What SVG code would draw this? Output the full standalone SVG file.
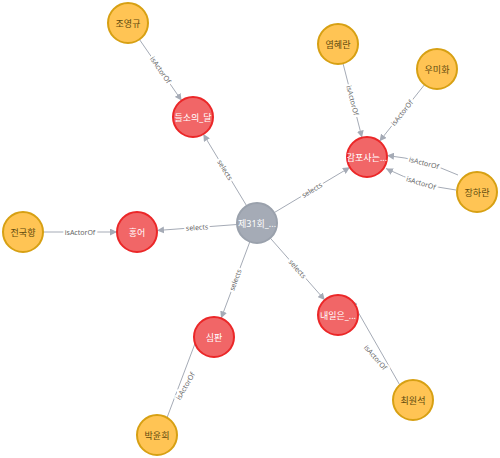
<svg xmlns="http://www.w3.org/2000/svg" width="500" height="458" viewBox="0 0 500 458">
<style>
.e{fill:none;stroke:#A5ABB6;stroke-width:1;marker-end:url(#ah)}
.el{font-family:"Noto Sans","Noto Sans CJK KR",sans-serif;font-size:7px;fill:#666;text-anchor:middle;dominant-baseline:central;stroke:#fff;stroke-width:4px;paint-order:stroke}
.act circle{fill:#FFC454;stroke:#D7A013;stroke-width:2}
.prg circle{fill:#F16667;stroke:#EB2728;stroke-width:2}
.ep circle{fill:#A5ABB6;stroke:#9AA1AC;stroke-width:2}
.nl{font-family:"Noto Sans","Noto Sans CJK KR",sans-serif;font-size:9px;text-anchor:middle;dominant-baseline:central}
.act text{fill:#604A0E}
.prg text,.ep text{fill:#fff}
</style>
<defs>
<marker id="ah" viewBox="0 0 10 10" refX="10" refY="5" markerWidth="7" markerHeight="7" markerUnits="userSpaceOnUse" orient="auto">
<path d="M0,0 L10,5 L0,10 Z" fill="#A5ABB6"/>
</marker>
</defs>
<rect width="500" height="458" fill="#fff"/>
<g id="edges">
<path class="e" d="M139.4,39.4 L181.6,100.6"/>
<path class="e" d="M246.7,205.9 L203.3,134.1"/>
<path class="e" d="M343,63.4 L362,137.6"/>
<path class="e" d="M424.5,84.7 L379.5,141.3"/>
<path class="e" d="M458,175 Q423,159 387,155.5"/>
<path class="e" d="M456,190 Q421,186 386,168.5"/>
<path class="e" d="M274.1,212.7 L349.9,167.3"/>
<path class="e" d="M43,232 L117,232"/>
<path class="e" d="M237,224.5 L157,230.5"/>
<path class="e" d="M249.9,241.7 L221.1,318.3"/>
<path class="e" d="M167,417.7 L204,319.7"/>
<path class="e" d="M270.2,238 L324.8,300"/>
<path class="e" d="M399.8,385 L351.2,300"/>
<text class="el" transform="translate(160.5,70) rotate(55.3)">isActorOf</text>
<text class="el" transform="translate(225,170) rotate(58.9)">selects</text>
<text class="el" transform="translate(352.5,100.5) rotate(75.6)">isActorOf</text>
<text class="el" transform="translate(402,113) rotate(-51.5)">isActorOf</text>
<text class="el" transform="translate(424,163) rotate(15)">isActorOf</text>
<text class="el" transform="translate(421,183) rotate(17)">isActorOf</text>
<text class="el" transform="translate(312,190) rotate(-31)">selects</text>
<text class="el" transform="translate(80,232)">isActorOf</text>
<text class="el" transform="translate(197,227.5) rotate(-4.3)">selects</text>
<text class="el" transform="translate(235.5,280) rotate(-69.3)">selects</text>
<text class="el" transform="translate(185.5,386) rotate(-59.8)">isActorOf</text>
<text class="el" transform="translate(297.5,269) rotate(48.6)">selects</text>
<text class="el" transform="translate(375.5,357.5) rotate(48.6)">isActorOf</text>
</g>
<g id="n_jyk" class="act"><circle cx="128" cy="23" r="20"/><text class="nl" x="128" y="23">조영규</text></g>
<g id="n_yhr" class="act"><circle cx="338" cy="44" r="20"/><text class="nl" x="338" y="44">염혜란</text></g>
<g id="n_umh" class="act"><circle cx="437" cy="69" r="20"/><text class="nl" x="437" y="69">우미화</text></g>
<g id="n_jhr" class="act"><circle cx="477" cy="192" r="20"/><text class="nl" x="477" y="192">장하란</text></g>
<g id="n_jgh" class="act"><circle cx="23" cy="232" r="20"/><text class="nl" x="23" y="232">전국향</text></g>
<g id="n_pyh" class="act"><circle cx="157" cy="435" r="20"/><text class="nl" x="157" y="435">박윤희</text></g>
<g id="n_cws" class="act"><circle cx="413" cy="400" r="20"/><text class="nl" x="413" y="400">최원석</text></g>
<g id="n_dsd" class="prg"><circle cx="193" cy="117" r="20"/><text class="nl" x="193" y="117">들소의_달</text></g>
<g id="n_gps" class="prg"><circle cx="367" cy="157" r="20"/><text class="nl" x="367" y="157">감포사는...</text></g>
<g id="n_ho" class="prg"><circle cx="137" cy="232" r="20"/><text class="nl" x="137" y="232">홍어</text></g>
<g id="n_sp" class="prg"><circle cx="214" cy="337" r="20"/><text class="nl" x="214" y="337">심판</text></g>
<g id="n_nie" class="prg"><circle cx="338" cy="315" r="20"/><text class="nl" x="338" y="315">내일은_...</text></g>
<g id="n_ep" class="ep"><circle cx="257" cy="223" r="20"/><text class="nl" x="257" y="223">제31회_...</text></g>
</svg>
